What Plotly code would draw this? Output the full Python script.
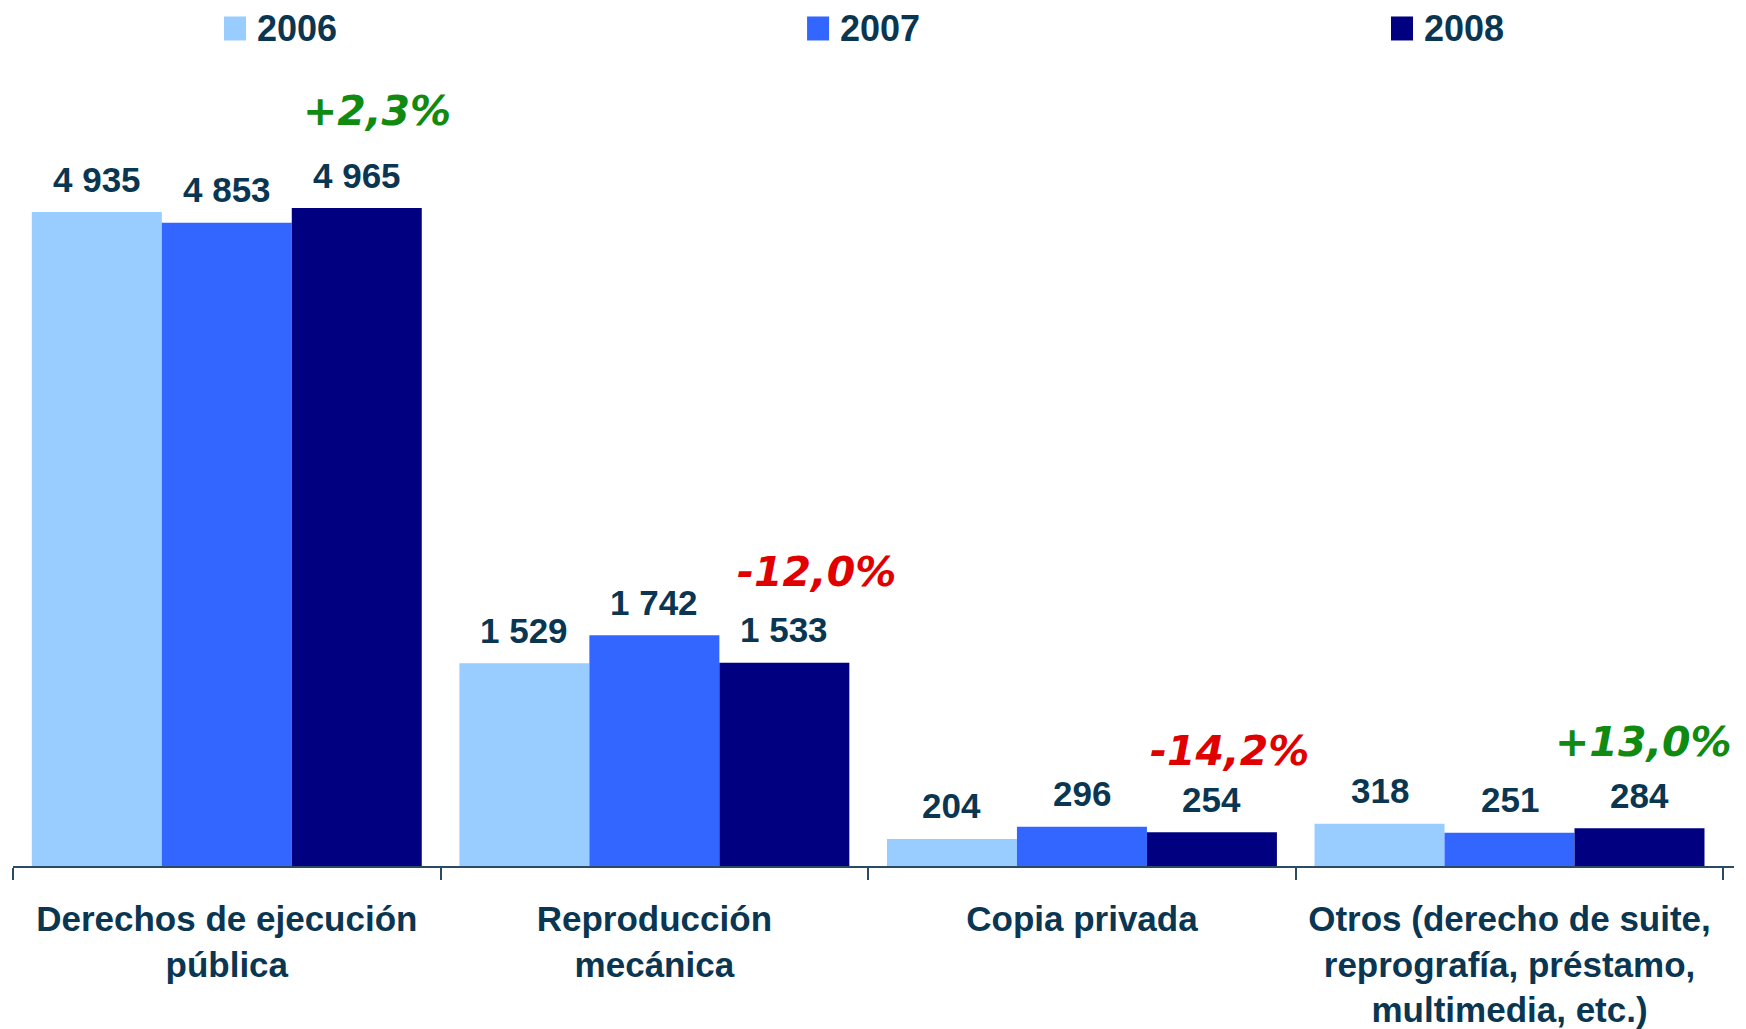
import plotly.graph_objects as go

# data
categories = [
    "Derechos de ejecución<br>pública",
    "Reproducción<br>mecánica",
    "Copia privada",
    "Otros (derecho de suite,<br>reprografía, préstamo,<br>multimedia, etc.)",
]
years = ["2006", "2007", "2008"]
v2006 = [4935, 1529, 204, 318]
v2007 = [4853, 1742, 296, 251]
v2008 = [4965, 1533, 254, 284]
pct_change = ["+2,3%", "-12,0%", "-14,2%", "+13,0%"]

colors = ["#99CCFF", "#3366FF", "#000080"]
navy = "#0A3652"
bargap = 0.088

fig = go.Figure()
series = [v2006, v2007, v2008]
for name, vals, col in zip(years, series, colors):
    fig.add_trace(go.Bar(x=categories, y=vals, name=name, marker_color=col,
                         marker_line_width=0, showlegend=False))

# value labels above each bar
w = (1 - bargap) / 3
ann = []
for j, vals in enumerate(series):
    for i, v in enumerate(vals):
        ann.append(dict(x=i + (j - 1) * w, y=v, xref="x", yref="y",
                        text=f"{v:,}".replace(",", " "), showarrow=False,
                        yanchor="middle", yshift=33,
                        font=dict(family="Liberation Sans, Arial", size=35,
                                  color=navy, weight="bold")))

# change 2007 -> 2008, placed over the 2008 bar (pixel nudges per group)
pct_dx = [20, 32, 18, 4]
pct_dy = [97, 91, 81, 86]
for i, p in enumerate(pct_change):
    ann.append(dict(x=i + w, y=v2008[i], xref="x", yref="y", text=p,
                    showarrow=False, yanchor="middle",
                    xshift=pct_dx[i], yshift=pct_dy[i],
                    font=dict(family="DejaVu Sans", size=41, style="italic",
                              weight="bold",
                              color="#E00000" if p.startswith("-") else "#108A10")))

# legend drawn by hand (bigger squares than plotly's own)
legend_x = [0.1226, 0.4614, 0.8007]
legend_y = 1.0391
shapes = []
for lx, name, col in zip(legend_x, years, colors):
    shapes.append(dict(type="rect", xref="paper", yref="paper",
                       xsizemode="pixel", ysizemode="pixel",
                       xanchor=lx, yanchor=legend_y, x0=0, x1=22, y0=-12, y1=12,
                       fillcolor=col, line_width=0))
    ann.append(dict(x=lx + 0.0186, y=legend_y, xref="paper", yref="paper",
                    text=name, showarrow=False, xanchor="left", yanchor="middle",
                    borderpad=0,
                    font=dict(family="Liberation Sans, Arial", size=36,
                              color=navy, weight="bold")))

# page body has an 8px margin, so the figure is a bit smaller than the window
fig.update_layout(
    width=1738, height=1021,
    margin=dict(l=5, r=12, t=52, b=163, autoexpand=False),
    barmode="group", bargap=bargap, bargroupgap=0,
    plot_bgcolor="white", paper_bgcolor="white",
    annotations=ann, shapes=shapes,
    xaxis=dict(type="category", showline=True, linecolor="#2B4A63", linewidth=2,
               ticks="outside", tickson="boundaries", ticklen=12,
               tickcolor="#2B4A63", tickwidth=2, showgrid=False,
               automargin=False, ticklabelstandoff=21, tickangle=0,
               tickfont=dict(family="Liberation Sans, Arial", size=35,
                             color=navy, weight="bold")),
    yaxis=dict(range=[0, 6082], visible=False, showgrid=False),
)

fig.write_html("out.html")
